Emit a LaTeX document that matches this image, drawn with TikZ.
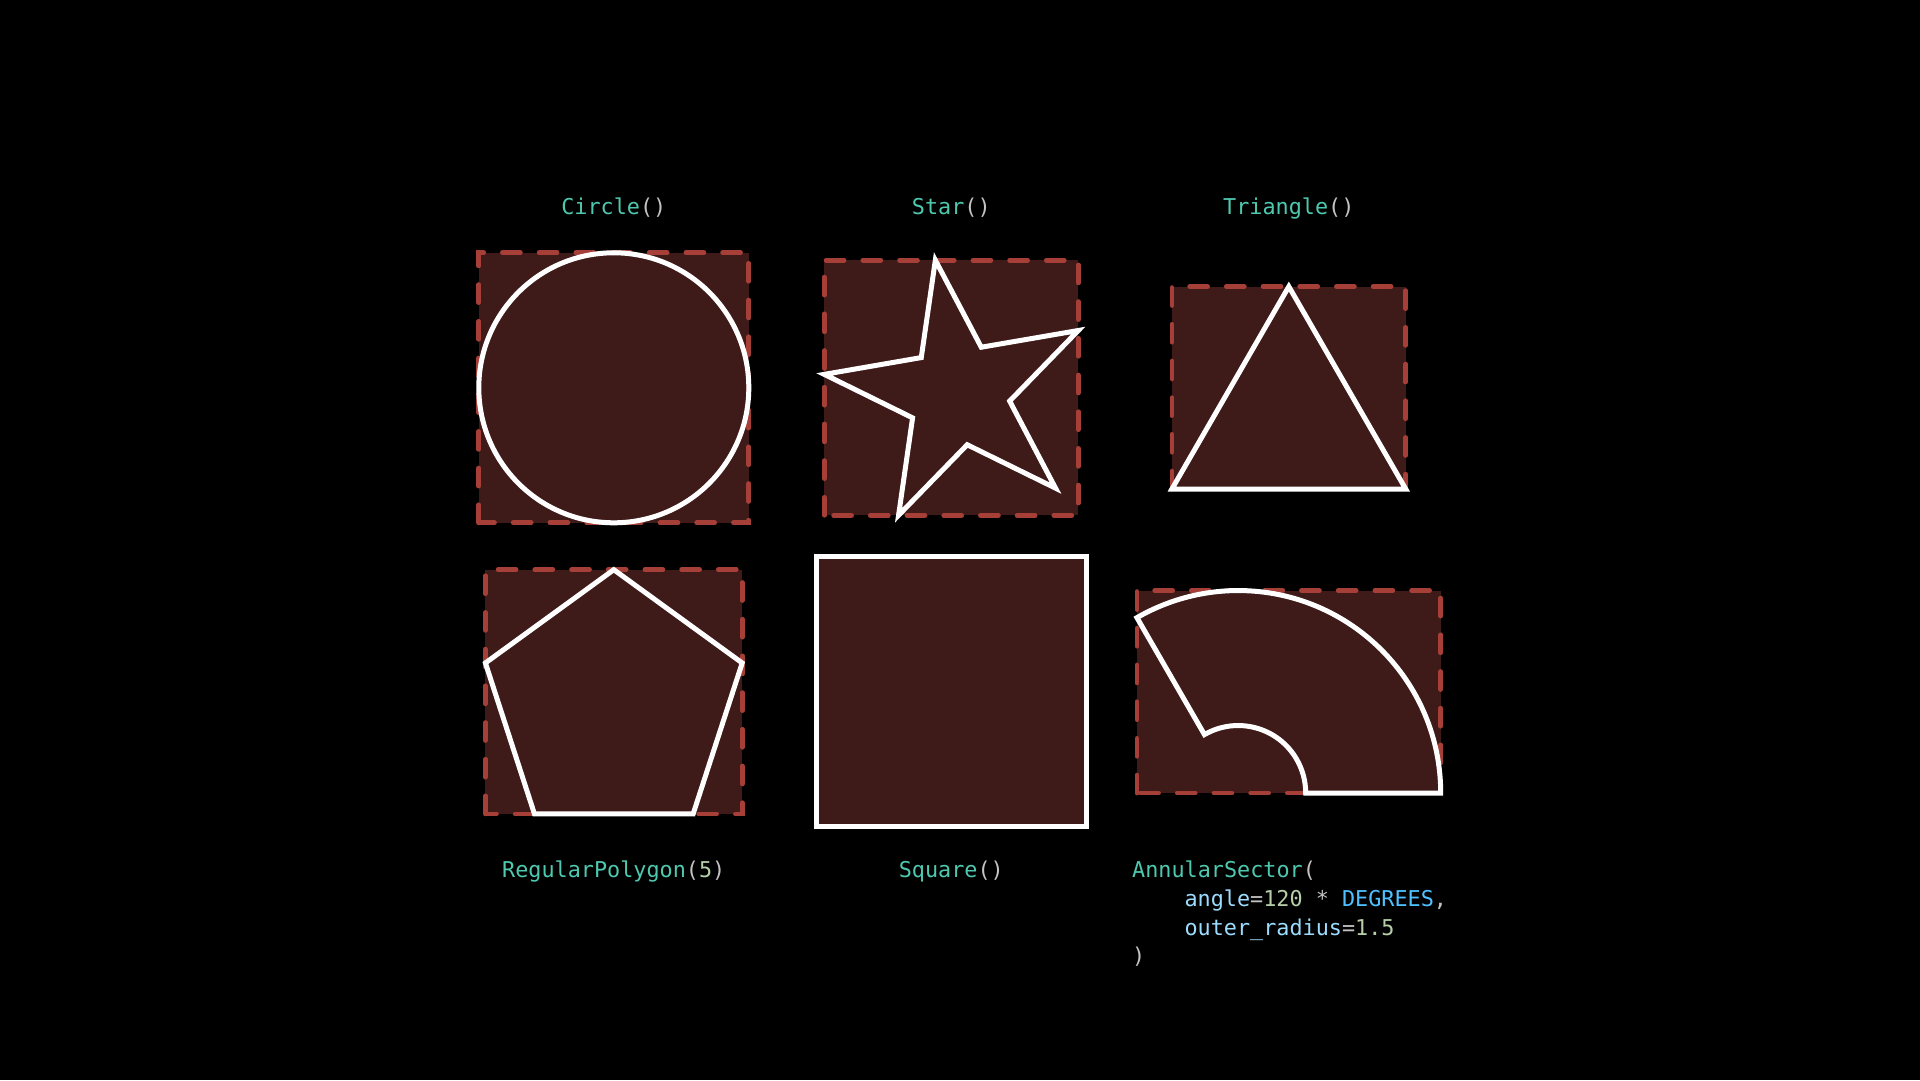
\documentclass[tikz,border=0pt]{standalone}
\usepackage{fontspec}
\newfontfamily\codefont{DejaVu Sans Mono}
\definecolor{boxfill}{RGB}{62,26,24}
\definecolor{dashred}{RGB}{165,63,55}
\definecolor{clsteal}{RGB}{78,201,176}
\definecolor{paren}{RGB}{195,195,195}
\definecolor{numgreen}{RGB}{181,206,168}
\definecolor{param}{RGB}{156,220,254}
\definecolor{constblue}{RGB}{79,193,255}
\begin{document}
\begin{tikzpicture}[x=1pt,y=1pt,
  bbox/.style={fill=boxfill, draw=dashred, line width=4.7pt, line cap=round, dash pattern=on 18pt off 18.7pt},
  whiteline/.style={draw=white, line width=5pt, line join=miter},
  lbl/.style={anchor=base, inner sep=0pt, font=\codefont\fontsize{21.8}{28.8}\selectfont},
  codeline/.style={lbl, anchor=base west}]
\fill[black] (0,0) rectangle (1920,1080);
\useasboundingbox (0,0) rectangle (1920,1080);

% Circle
\draw[bbox] (478.8,557.2) rectangle (748.8,827.2);
\draw[whiteline] (613.8,692.2) circle[radius=135];

% Star
\draw[bbox] (824.3,564.7) rectangle (1078.3,819.8);
\begin{scope}[shift={(958.4,686.3)}]
\draw[whiteline] (99.8:135.5) -- (135.8:51.8) -- (171.8:135.5) -- (207.8:51.8)
  -- (243.8:135.5) -- (279.8:51.8) -- (315.8:135.5) -- (351.8:51.8)
  -- (27.8:135.5) -- (63.8:51.8) -- cycle;
\end{scope}

% Triangle
\draw[bbox] (1171.9,590.95) rectangle (1405.7,793.45);
\draw[whiteline] (1288.8,793.45) -- (1171.9,590.95) -- (1405.7,590.95) -- cycle;

% Pentagon
\draw[bbox] (485.4,266.1) rectangle (742.2,510.3);
\begin{scope}[shift={(613.8,375.3)}]
\draw[whiteline] (90:135) -- (162:135) -- (234:135) -- (306:135) -- (18:135) -- cycle;
\end{scope}

% Square
\draw[whiteline, fill=boxfill] (816.3,253.2) rectangle (1086.3,523.2);

% Annular sector
\draw[bbox] (1136.95,286.95) rectangle (1440.7,489.45);
\draw[whiteline] (1440.7,286.95) arc[start angle=0, end angle=120, radius=202.5]
  -- ([shift={(1238.2,286.95)}]120:67.5) arc[start angle=120, end angle=0, radius=67.5] -- cycle;

% Labels
\node[lbl] (lcircle) at (613.8,865.7) {\textcolor{clsteal}{Circle}\textcolor{paren}{()}};
\node[lbl] (lstar) at (951.3,865.7) {\textcolor{clsteal}{Star}\textcolor{paren}{()}};
\node[lbl] (ltri) at (1288.8,865.7) {\textcolor{clsteal}{Triangle}\textcolor{paren}{()}};
\node[lbl] (lpoly) at (613.8,202.5) {\textcolor{clsteal}{RegularPolygon}\textcolor{paren}{(}\textcolor{numgreen}{5}\textcolor{paren}{)}};
\node[lbl] (lsquare) at (951.3,202.5) {\textcolor{clsteal}{Square}\textcolor{paren}{()}};
\node[codeline] (lsec1) at (1132,202.5) {\textcolor{clsteal}{AnnularSector}\textcolor{paren}{(}};
\node[codeline] (lsec2) at (1184.4,173.7) {\textcolor{param}{angle}\textcolor{paren}{=}\textcolor{numgreen}{120} \textcolor{paren}{*} \textcolor{constblue}{DEGREES}\textcolor{paren}{,}};
\node[codeline] (lsec3) at (1184.4,144.9) {\textcolor{param}{outer\_radius}\textcolor{paren}{=}\textcolor{numgreen}{1.5}};
\node[codeline] (lsec4) at (1132,116.1) {\textcolor{paren}{)}};
\end{tikzpicture}
\end{document}
